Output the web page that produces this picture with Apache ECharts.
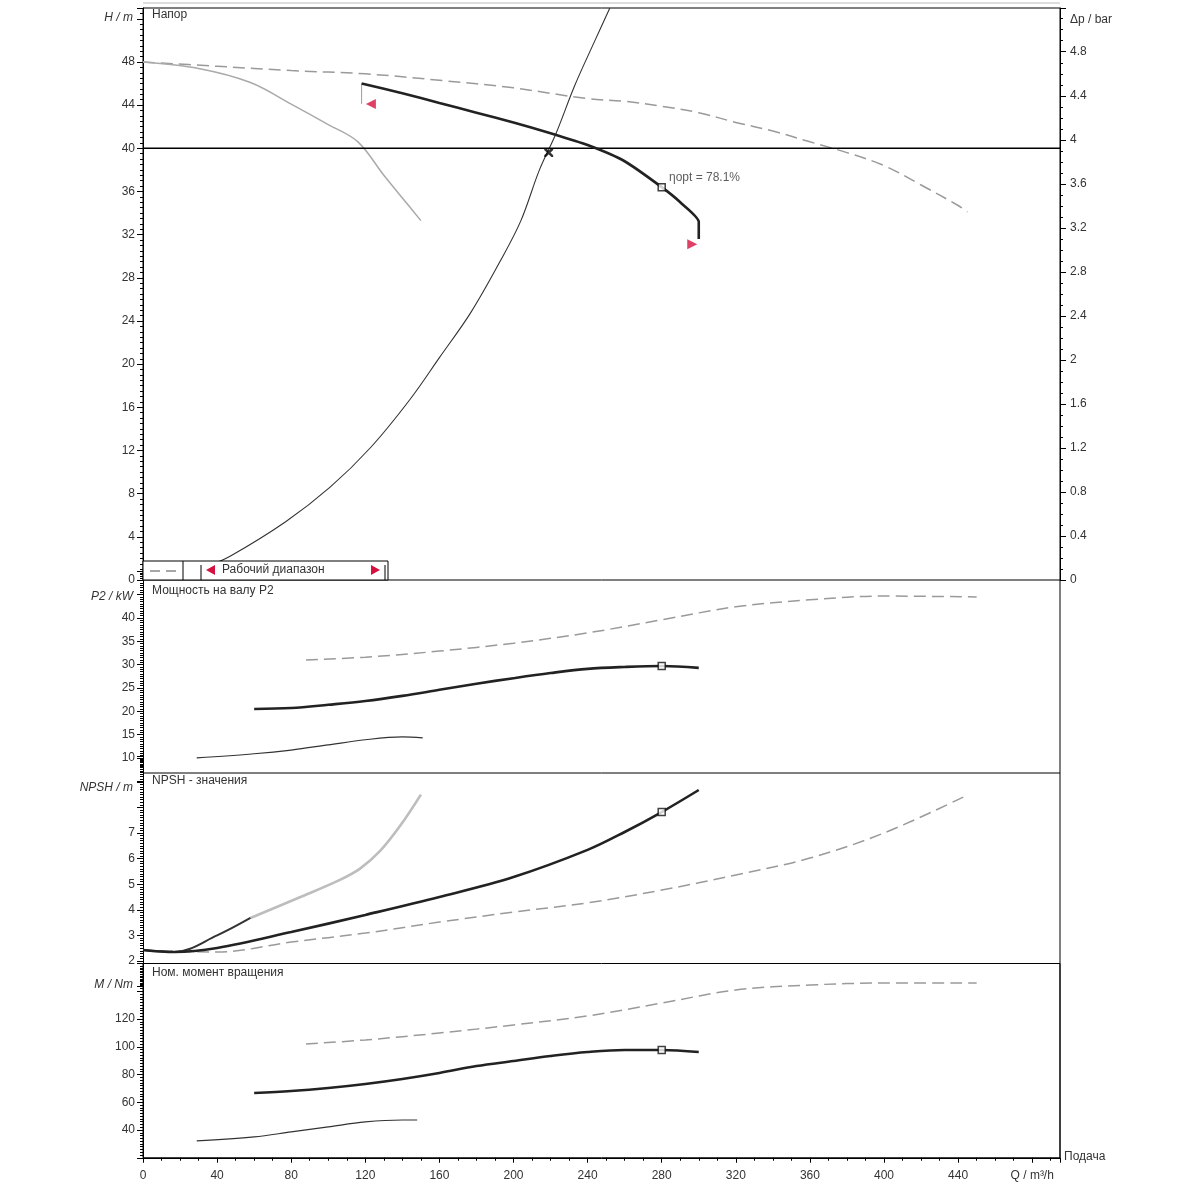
<!DOCTYPE html>
<html><head><meta charset="utf-8">
<script src="https://cdn.jsdelivr.net/npm/echarts@6/dist/echarts.min.js"></script>
<style>html,body{margin:0;padding:0;background:#fff}#c{width:1200px;height:1200px}</style>
</head><body><div id="c"></div>
<script>
// ---------- DATA ----------
const xTicks = [0,40,80,120,160,200,240,280,320,360,400,440];
// Panel 1: head H (m)
const hMaxQ = [0,40,80,120,160,200,240,260,280,300,320,340,360,380,400,420,440,445];
const hMaxH = [48.0,47.6,47.2,46.9,46.3,45.6,44.6,44.35,43.9,43.3,42.4,41.6,40.6,39.6,38.4,36.6,34.7,34.1];
const hMinQ = [0,30,58,80,100,116,130,140,150];
const hMinH = [48.0,47.4,46.1,44.1,42.2,40.6,37.5,35.4,33.3];
const hDutyQ = [118,140,160,180,200,220,240,260,280,290,300,300];
const hDutyH = [46.0,45.1,44.2,43.3,42.4,41.4,40.3,38.8,36.4,35.0,33.2,31.6];
const sysQ = [35,47,77,101,123,144,160,177,193,204,214,223,233,244,252];
const sysH = [1.3,2.2,5.4,8.6,12.3,16.7,20.6,24.8,29.6,33.3,38.0,41.4,45.8,50.0,53.0];
const dutyHeadLevel = 40;
const rangeStart = [123,44.1];
const rangeEnd = [296.5,31.1];
const crossPoint = [219,39.6];
const bepQ = 280;
const bepLabel = 'ηopt = 78.1%';
// Panel 2: power P2 (kW)
const pDutyQ = [60,80,100,120,140,160,180,200,220,240,260,280,300];
const pDuty = [20.5,20.7,21.4,22.2,23.3,24.6,25.9,27.1,28.2,29.1,29.5,29.7,29.3];
const pMaxQ = [88,120,160,200,240,280,320,360,400,450];
const pMax = [31.0,31.6,32.9,34.6,36.8,39.6,42.4,43.9,44.7,44.5];
const pMinQ = [29,60,80,100,120,140,151];
const pMin = [10.0,10.9,11.7,12.8,13.9,14.5,14.3];
// Panel 3: NPSH (m)
const nDutyQ = [0,17,40,80,120,160,200,240,260,280,300];
const nDuty = [2.43,2.35,2.51,3.13,3.80,4.50,5.28,6.34,7.04,7.82,8.68];
const nMinQa = [0,17,40,58];
const nMinA = [2.43,2.35,3.0,3.68];
const nMinQb = [58,85,106,117,128,139,150];
const nMinB = [3.68,4.5,5.16,5.6,6.3,7.3,8.5];
const nMaxQ = [0,40,80,120,160,200,240,280,320,360,400,445];
const nMax = [2.43,2.35,2.74,3.09,3.52,3.91,4.27,4.77,5.36,6.02,7.0,8.48];
// Panel 4: torque M (Nm)
const mDutyQ = [60,80,100,120,140,160,180,200,220,240,260,280,300];
const mDuty = [66.7,68.1,70.3,73.2,76.8,81.1,86.1,89.7,93.3,96.2,97.7,97.7,96.2];
const mMaxQ = [88,120,160,200,240,280,320,360,400,450];
const mMax = [102.0,104.9,109.9,115.7,122.2,131.5,140.9,144.5,145.9,145.9];
const mMinQ = [29,60,80,100,120,140,148];
const mMin = [32.1,35.0,38.6,42.2,45.8,47.2,47.2];

// ---------- HELPERS ----------
const zip = (a,b) => a.map((v,i)=>[v,b[i]]);
const at = (qs,vs,q) => vs[qs.indexOf(q)];
const FONT = 'Liberation Sans';
const TXT = '#333';
const QMAX = 495;
const RHO_G = 0.0980665; // bar per m

function xAx(g, show){
  return {type:'value', gridIndex:g, min:0, max:QMAX, interval:40,
    axisLine:{show:show, lineStyle:{color:'#000',width:1}},
    axisTick:{show:show, length:5, lineStyle:{color:'#000'}},
    minorTick:{show:show, splitNumber:4, length:3, lineStyle:{color:'#000'}},
    axisLabel:{show:show, margin:12, color:TXT, fontFamily:FONT, fontSize:12, showMaxLabel:false,
      formatter: v => v===480 ? 'Q / m³/h' : String(v)},
    splitLine:{show:false}};
}
function yAx(g, min, max, interval, minorSplit, lo, hi, pos){
  return {type:'value', gridIndex:g, min:min, max:max, interval:interval, position:pos||'left',
    axisLine:{show:true, lineStyle:{color:'#000',width:1}},
    axisTick:{show:true, length:6, lineStyle:{color:'#000'}},
    minorTick:{show:true, splitNumber:minorSplit, length:3, lineStyle:{color:'#000'}},
    axisLabel:{margin:8, color:TXT, fontFamily:FONT, fontSize:12,
      formatter: v => (v>=lo-1e-9 && v<=hi+1e-9) ? String(+v.toFixed(1)) : ''},
    splitLine:{show:false}};
}
function line(xi, yi, data, color, width, type, z){
  return {type:'line', xAxisIndex:xi, yAxisIndex:yi, data:data, smooth:0.35, showSymbol:false,
    symbol:'none', silent:true, z:z||3,
    lineStyle:{color:color, width:width, type:type||'solid'}};
}
function bep(xi, yi, val, label){
  const s = {type:'scatter', xAxisIndex:xi, yAxisIndex:yi, data:[[bepQ,val]], symbol:'rect', symbolSize:7, z:6,
    itemStyle:{color:'#fff', borderColor:'#111', borderWidth:1.5}};
  if(label){ s.label = {show:true, position:'right', offset:[-2,-9], formatter:label, color:TXT, fontFamily:FONT, fontSize:12}; }
  return s;
}
const DASH = [12,6];
const GRAY = '#9a9a9a';

const option = {
  animation:false,
  backgroundColor:'#fff',
  grid:[
    {left:143, width:917, top:8, height:572, show:true, borderColor:'#000', borderWidth:1},
    {left:143, width:917, top:571.3, height:210},
    {left:143, width:917, top:756.2, height:230.4},
    {left:143, width:917, top:963.5, height:194.25, show:true, borderColor:'#000', borderWidth:1}
  ],
  xAxis:[xAx(0,false), xAx(1,false), xAx(2,false), xAx(3,true)],
  yAxis:[
    yAx(0, 0, 53, 4, 8, 0, 48),
    Object.assign(yAx(0, 0, 53*RHO_G, 0.4, 4, 0, 4.8, 'right'), {axisLabel:{margin:10, color:TXT, fontFamily:FONT, fontSize:12,
      formatter: v => v<=4.81 ? String(+v.toFixed(1)) : ''}}),
    yAx(1, 5, 50, 5, 10, 10, 40),
    yAx(2, 1, 10, 1, 10, 2, 7),
    yAx(3, 20, 160, 20, 10, 40, 120)
  ],
  series:[
    // panel 1
    line(0,0, zip(hMaxQ,hMaxH), GRAY, 1.5, DASH),
    line(0,0, zip(hMinQ,hMinH), '#aaaaaa', 1.5),
    line(0,0, zip(sysQ,sysH), '#333', 1.1),
    line(0,0, [[0,dutyHeadLevel],[QMAX,dutyHeadLevel]], '#000', 1.6, 'solid', 4),
    Object.assign(line(0,0, zip(hDutyQ,hDutyH), '#222', 2.6, 'solid', 5), {smooth:0.2}),
    line(0,0, [[hDutyQ[0],hDutyH[0]],[hDutyQ[0],rangeStart[1]]], '#999', 1),
    bep(0,0, at(hDutyQ,hDutyH,bepQ), bepLabel),
    {type:'scatter', xAxisIndex:0, yAxisIndex:0, data:[rangeStart], symbol:'triangle', symbolRotate:90, symbolSize:10, itemStyle:{color:'#d6113f'}, z:6},
    {type:'scatter', xAxisIndex:0, yAxisIndex:0, data:[rangeEnd], symbol:'triangle', symbolRotate:-90, symbolSize:10, itemStyle:{color:'#d6113f'}, z:6},
    {type:'scatter', xAxisIndex:0, yAxisIndex:0, data:[crossPoint], symbol:'path://M0,0L2,0L10,8L10,10L8,10L0,2ZM8,0L10,0L10,2L2,10L0,10L0,8Z', symbolSize:9, itemStyle:{color:'#000'}, z:6},
    // panel 2
    line(1,2, zip(pMaxQ,pMax), GRAY, 1.5, DASH),
    line(1,2, zip(pDutyQ,pDuty), '#222', 2.6, 'solid', 5),
    line(1,2, zip(pMinQ,pMin), '#333', 1.2),
    bep(1,2, at(pDutyQ,pDuty,bepQ)),
    // panel 3
    line(2,3, zip(nMaxQ,nMax), GRAY, 1.5, DASH),
    line(2,3, zip(nMinQb,nMinB), '#bdbdbd', 2.6),
    line(2,3, zip(nMinQa,nMinA), '#333', 2.0),
    line(2,3, zip(nDutyQ,nDuty), '#222', 2.6, 'solid', 5),
    bep(2,3, at(nDutyQ,nDuty,bepQ)),
    // panel 4
    line(3,4, zip(mMaxQ,mMax), GRAY, 1.5, DASH),
    line(3,4, zip(mDutyQ,mDuty), '#222', 2.6, 'solid', 5),
    line(3,4, zip(mMinQ,mMin), '#333', 1.2),
    bep(3,4, at(mDutyQ,mDuty,bepQ))
  ],
  graphic:[
    // panel separators
    {type:'line', shape:{x1:143,y1:773,x2:1060,y2:773}, style:{stroke:'#000',lineWidth:1}, z:10},
    {type:'line', shape:{x1:1060,y1:580,x2:1060,y2:1158}, style:{stroke:'#000',lineWidth:1}, z:10},
    {type:'line', shape:{x1:143,y1:3,x2:1060,y2:3}, style:{stroke:'#bbb',lineWidth:1}, z:10},
    // panel titles & axis names
    {type:'text', left:152, top:9, style:{text:'Напор', fill:TXT, font:'12px '+FONT}},
    {type:'text', right:1200-133, top:12, style:{text:'H / m', fill:TXT, font:'italic 12px '+FONT, textAlign:'right'}},
    {type:'text', left:1070, top:14, style:{text:'Δp / bar', fill:TXT, font:'12px '+FONT}},
    {type:'text', left:152, top:585, style:{text:'Мощность на валу P2', fill:TXT, font:'12px '+FONT}},
    {type:'text', right:1200-133, top:591, style:{text:'P2 / kW', fill:TXT, font:'italic 12px '+FONT}},
    {type:'text', left:152, top:775, style:{text:'NPSH - значения', fill:TXT, font:'12px '+FONT}},
    {type:'text', right:1200-133, top:782, style:{text:'NPSH / m', fill:TXT, font:'italic 12px '+FONT}},
    {type:'text', left:152, top:967, style:{text:'Ном. момент вращения', fill:TXT, font:'12px '+FONT}},
    {type:'text', right:1200-133, top:979, style:{text:'M / Nm', fill:TXT, font:'italic 12px '+FONT}},
    {type:'text', left:1064, top:1151, style:{text:'Подача', fill:TXT, font:'12px '+FONT}},
    // legend box (operating range)
    {type:'rect', shape:{x:143,y:561,width:245,height:19}, style:{fill:'#fff',stroke:'#000',lineWidth:1}, z:8},
    {type:'line', shape:{x1:183,y1:561,x2:183,y2:580}, style:{stroke:'#000',lineWidth:1}, z:9},
    {type:'line', shape:{x1:150,y1:571,x2:160,y2:571}, style:{stroke:'#888',lineWidth:1.5}, z:9},
    {type:'line', shape:{x1:166,y1:571,x2:176,y2:571}, style:{stroke:'#888',lineWidth:1.5}, z:9},
    {type:'line', shape:{x1:201,y1:565,x2:201,y2:580}, style:{stroke:'#000',lineWidth:1}, z:9},
    {type:'polygon', shape:{points:[[206,570],[215,565],[215,575]]}, style:{fill:'#d6113f'}, z:9},
    {type:'text', left:222, top:564, style:{text:'Рабочий диапазон', fill:TXT, font:'12px '+FONT}, z:9},
    {type:'polygon', shape:{points:[[380,570],[371,565],[371,575]]}, style:{fill:'#d6113f'}, z:9},
    {type:'line', shape:{x1:385,y1:565,x2:385,y2:580}, style:{stroke:'#000',lineWidth:1}, z:9}
  ]
};
const chart = echarts.init(document.getElementById('c'), null, {renderer:'canvas'});
chart.setOption(option);
</script></body></html>
